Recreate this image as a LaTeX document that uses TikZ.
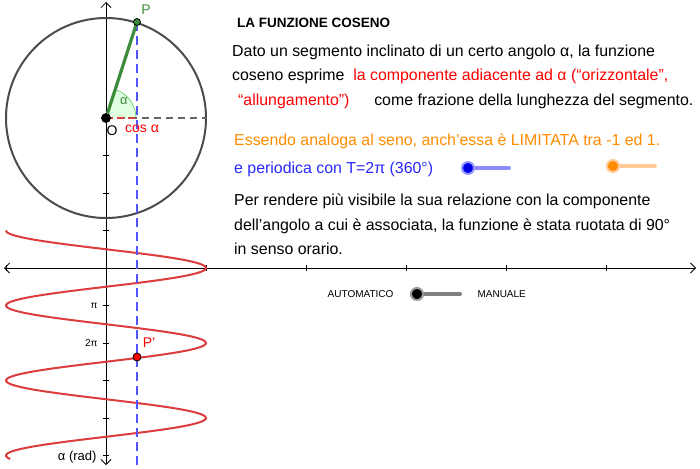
\documentclass[tikz,border=0pt]{standalone}
\usepackage{fontspec}
\setmainfont{Liberation Sans}
\usetikzlibrary{arrows.meta}
\definecolor{gblue}{RGB}{40,40,255}
\definecolor{gred}{RGB}{220,60,60}
\definecolor{gorange}{RGB}{255,140,0}
\definecolor{ggreen}{RGB}{60,140,60}
\tikzset{
  txt/.style={anchor=base west,inner sep=0pt,font=\fontsize{15.9}{18}\selectfont},
  axis/.style={black,line width=0.8pt,{Straight Barb[length=5pt]}-{Straight Barb[length=5pt]}},
  dot/.style={circle,fill=#1,draw=black,line width=0.8pt,inner sep=0pt,minimum size=7pt}
}
\begin{document}
\begin{tikzpicture}[x=1pt,y=-1pt]
\useasboundingbox (0,0) rectangle (700,468);
% axes
\draw[axis] (4,268) -- (696,268);
\draw[axis] (106,2) -- (106,465);
\foreach \x in {6,206,306,406,506,606} \draw[line width=0.8pt] (\x,265) -- (\x,271);
\foreach \k in {-4,...,5} \draw[line width=0.8pt] (103,268+37.5*\k) -- (109,268+37.5*\k);
\node[anchor=east,font=\fontsize{10}{11}\selectfont] at (101,306) {π};
\node[anchor=east,font=\fontsize{10}{11}\selectfont] at (101,343) {2π};
\node[anchor=east,font=\fontsize{13}{15}\selectfont] at (100,457) {α (rad)};
% circle
\draw[line width=2pt,black!70] (106,118) circle (100);
\fill[green!12] (106,118) -- (136,118) arc[start angle=0,end angle=-72,radius=30] -- cycle;
\draw[green!50!gray,line width=0.5pt] (136,118) arc[start angle=0,end angle=-72,radius=30];
\draw[black!60,line width=1.2pt,dash pattern=on 7pt off 5pt] (106,118) -- (206,118);
\draw[gred,line width=1.5pt,dash pattern=on 7pt off 4pt] (106,118) -- (137,118);
\node[text=ggreen,font=\fontsize{13}{15}\selectfont] at (124,101) {α};
% cosine curve
\draw[gred,line width=2pt,smooth,domain=-3.14:16.0,samples=200] plot ({106+100*cos(\x r)},{268+75*\x/6.2832});
% blue dashed
\draw[gblue!80,line width=2pt,dash pattern=on 9pt off 5pt] (137,22) -- (137,465);
\node[dot=black,minimum size=9pt] (O) at (106,118) {};
\coordinate (Pc) at (137,22);
\draw[ggreen,line width=3.2pt] (O) -- (Pc);
\node[dot=ggreen,minimum size=7pt] (P) at (Pc) {};
\node[text=ggreen,font=\fontsize{14}{15}\selectfont] at (146,10) {P};
\node[font=\fontsize{14}{15}\selectfont] at (112,131) {O};
\node[text=red,font=\fontsize{14}{15}\selectfont] at (142,129) {cos α};
\node[dot=red,minimum size=8pt] (Pp) at (137,357) {};
\node[text=red,font=\fontsize{14}{15}\selectfont] at (149,343) {P'};
% text
\node[txt,font=\bfseries\fontsize{13.5}{15}\selectfont] at (237,28) {LA FUNZIONE COSENO};
\node[txt] at (232,57) {Dato un segmento inclinato di un certo angolo α, la funzione};
\node[txt] at (232,81) {coseno esprime \ \textcolor{red}{la componente adiacente ad α (“orizzontale”,}};
\node[txt] at (238,105) {\textcolor{red}{“allungamento”)}\quad\ \ come frazione della lunghezza del segmento.};
\node[txt,text=gorange] at (234,145) {Essendo analoga al seno, anch'essa è LIMITATA tra -1 ed 1.};
\node[txt,text=gblue] at (234,173) {e periodica con T=2π (360°)};
\node[txt] at (234,205) {Per rendere più visibile la sua relazione con la componente};
\node[txt] at (234,230) {dell'angolo a cui è associata, la funzione è stata ruotata di 90°};
\node[txt] at (234,254) {in senso orario.};
% sliders
\draw[blue!45,line width=4pt,line cap=round] (468,168) -- (509,168);
\node[circle,fill=blue!90!black,draw=blue!40,line width=2pt,minimum size=12pt,inner sep=0pt] (s1) at (468,168) {};
\draw[orange!40,line width=4pt,line cap=round] (613,166) -- (655,166);
\node[circle,fill=gorange,draw=orange!40,line width=2pt,minimum size=12pt,inner sep=0pt] (s2) at (613,166) {};
\draw[black!50,line width=4pt,line cap=round] (417,294) -- (460,294);
\node[circle,fill=black,draw=black!40,line width=2pt,minimum size=12pt,inner sep=0pt] (s3) at (417,294) {};
\node[font=\fontsize{10}{11}\selectfont,anchor=east] at (397,294) {AUTOMATICO};
\node[font=\fontsize{10}{11}\selectfont,anchor=west] at (474,294) {MANUALE};
\end{tikzpicture}
\end{document}
